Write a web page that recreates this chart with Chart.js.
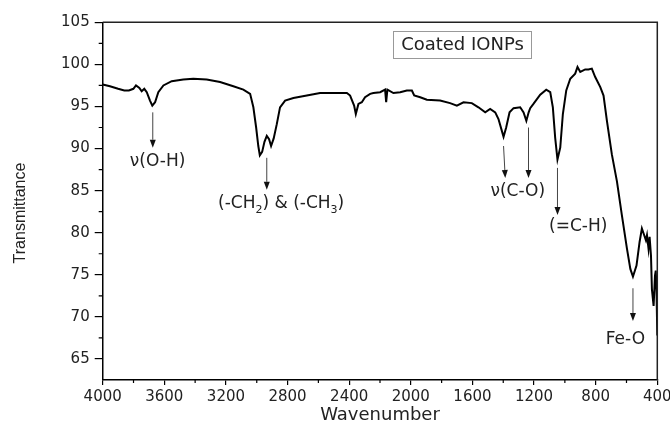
<!DOCTYPE html>
<html>
<head>
<meta charset="utf-8">
<script src="https://cdn.jsdelivr.net/npm/chart.js@4.4.1/dist/chart.umd.min.js"></script>
<style>
  html, body { margin: 0; padding: 0; background: #fff; }
</style>
</head>
<body>
<canvas id="irChart" width="670" height="430"></canvas>
<script>
// FTIR spectrum
const wavenumbers = [
    4000, 3953, 3900, 3860, 3830, 3801, 3784, 3762, 3747, 3730, 3714, 3693, 3678, 3660, 3639, 3606,
    3552, 3477, 3412, 3325, 3238, 3152, 3087, 3043, 3022, 3004, 2990, 2980, 2965, 2950, 2935, 2920,
    2907, 2890, 2870, 2849, 2816, 2762, 2675, 2589, 2500, 2415, 2394, 2368, 2357, 2340, 2318, 2297,
    2264, 2243, 2199, 2167, 2160, 2152, 2113, 2069, 2026, 1993, 1978, 1939, 1896, 1810, 1745, 1701,
    1658, 1604, 1561, 1517, 1485, 1452, 1431, 1409, 1398, 1381, 1359, 1333, 1290, 1268, 1250, 1235,
    1225, 1204, 1160, 1121, 1095, 1078, 1063, 1048, 1030, 1013, 991, 965, 933, 918, 900, 868,
    847, 825, 803, 770, 749, 727, 695, 662, 630, 597, 575, 558, 535, 515, 500, 485,
    474, 467, 457, 450, 441, 435, 424, 415, 410, 405, 400
];
const transmittance = [
    97.6, 97.4, 97.1, 96.9, 96.9, 97.1, 97.5, 97.2, 96.8, 97.1, 96.7, 95.7, 95.1, 95.5, 96.7, 97.5,
    98.0, 98.2, 98.3, 98.2, 97.9, 97.4, 97.0, 96.5, 94.9, 92.5, 90.3, 89.2, 89.6, 90.8, 91.5, 91.1,
    90.3, 91.2, 92.9, 94.9, 95.7, 96.0, 96.3, 96.6, 96.6, 96.6, 96.3, 95.1, 94.1, 95.3, 95.5, 96.1,
    96.5, 96.6, 96.7, 97.0, 95.5, 97.0, 96.6, 96.7, 96.9, 96.9, 96.3, 96.1, 95.8, 95.7, 95.4, 95.1,
    95.5, 95.4, 94.9, 94.3, 94.7, 94.3, 93.5, 92.1, 91.4, 92.5, 94.3, 94.8, 94.9, 94.3, 93.3, 94.3,
    94.8, 95.3, 96.4, 97.0, 96.7, 94.9, 91.3, 88.7, 90.1, 94.1, 96.9, 98.3, 98.9, 99.7, 99.1, 99.4,
    99.4, 99.5, 98.5, 97.3, 96.3, 93.3, 89.3, 86.1, 82.1, 78.1, 75.7, 74.8, 76.1, 78.9, 80.5, 79.7,
    79.1, 79.7, 78.1, 79.5, 77.3, 73.3, 71.3, 74.9, 75.5, 73.0, 67.8
];
const yTickValues = [65, 70, 75, 80, 85, 90, 95, 100, 105];
const seriesName = 'Coated IONPs';

// peak labels: arrow from/to and text position, in data units
const peakNotes = [
    { parts: [['ν(O-H)']], tx: 3644, ty: 88.4, arrows: [[3675, 94.3, 3675, 90.1]] },
    { parts: [['(-CH'], ['2', 1], [') & (-CH'], ['3', 1], [')']], tx: 2842, ty: 83.5, arrows: [[2935, 88.9, 2935, 85.1]] },
    { parts: [['ν(C-O)']], tx: 1306, ty: 84.9, arrows: [[1398, 90.3, 1387, 86.5], [1236, 92.5, 1236, 86.5]] },
    { parts: [['(=C-H)']], tx: 913, ty: 80.7, arrows: [[1048, 87.7, 1048, 82.1]] },
    { parts: [['Fe-O']], tx: 607, ty: 67.3, arrows: [[558, 73.4, 558, 69.5]] }
];

const points = wavenumbers.map((w, i) => ({ x: w, y: transmittance[i] }));

function drawArrow(ctx, x1, y1, x2, y2) {
    const ang = Math.atan2(y2 - y1, x2 - x1);
    const len = 8, half = 3;
    ctx.strokeStyle = '#444';
    ctx.lineWidth = 1;
    ctx.beginPath();
    ctx.moveTo(x1, y1);
    ctx.lineTo(x2 - Math.cos(ang) * len, y2 - Math.sin(ang) * len);
    ctx.stroke();
    ctx.fillStyle = '#111';
    ctx.beginPath();
    ctx.moveTo(x2, y2);
    ctx.lineTo(x2 - Math.cos(ang) * len - Math.sin(ang) * half, y2 - Math.sin(ang) * len + Math.cos(ang) * half);
    ctx.lineTo(x2 - Math.cos(ang) * len + Math.sin(ang) * half, y2 - Math.sin(ang) * len - Math.cos(ang) * half);
    ctx.closePath();
    ctx.fill();
}

function drawParts(ctx, parts, cx, cy) {
    const big = '17px "DejaVu Sans"', small = '11px "DejaVu Sans"';
    let total = 0;
    parts.forEach(p => { ctx.font = p[1] ? small : big; total += ctx.measureText(p[0]).width; });
    let x = cx - total / 2;
    ctx.textAlign = 'left';
    ctx.textBaseline = 'middle';
    ctx.fillStyle = '#222';
    parts.forEach(p => {
        ctx.font = p[1] ? small : big;
        ctx.fillText(p[0], x, p[1] ? cy + 7 : cy);
        x += ctx.measureText(p[0]).width;
    });
}

const extrasPlugin = {
    id: 'extras',
    afterDraw(chart) {
        const { ctx, chartArea: a, scales: { x, y } } = chart;
        ctx.save();
        // top and right frame
        ctx.strokeStyle = '#222';
        ctx.lineWidth = 1.5;
        ctx.beginPath();
        ctx.moveTo(a.left, a.top);
        ctx.lineTo(a.right, a.top);
        ctx.lineTo(a.right, a.bottom);
        ctx.stroke();

        // minor ticks
        ctx.strokeStyle = '#000';
        ctx.lineWidth = 1.2;
        ctx.beginPath();
        for (let v = 600; v < 4000; v += 400) {
            const px = x.getPixelForValue(v);
            ctx.moveTo(px, a.bottom);
            ctx.lineTo(px, a.bottom + 3);
        }
        for (let v = 67.5; v < 105; v += 5) {
            const py = y.getPixelForValue(v);
            ctx.moveTo(a.left, py);
            ctx.lineTo(a.left - 4, py);
        }
        ctx.stroke();

        // y title
        ctx.save();
        ctx.translate(21, 213);
        ctx.rotate(-Math.PI / 2);
        ctx.font = '16px "Liberation Sans"';
        ctx.fillStyle = '#222';
        ctx.textAlign = 'center';
        ctx.textBaseline = 'middle';
        ctx.fillText('Transmittance', 0, 0);
        ctx.restore();

        // peak notes
        peakNotes.forEach(n => {
            n.arrows.forEach(ar => {
                drawArrow(ctx, x.getPixelForValue(ar[0]), y.getPixelForValue(ar[1]),
                    x.getPixelForValue(ar[2]), y.getPixelForValue(ar[3]));
            });
            drawParts(ctx, n.parts, x.getPixelForValue(n.tx), y.getPixelForValue(n.ty));
        });

        // legend box
        ctx.strokeStyle = '#999';
        ctx.lineWidth = 1;
        ctx.strokeRect(393.5, 31.5, 138, 27);
        ctx.font = '18px "DejaVu Sans"';
        ctx.fillStyle = '#222';
        ctx.textAlign = 'center';
        ctx.textBaseline = 'middle';
        ctx.fillText(seriesName, 462.5, 45.5);
        ctx.restore();
    }
};

new Chart(document.getElementById('irChart'), {
    type: 'line',
    data: {
        datasets: [{
            label: seriesName,
            data: points,
            borderColor: '#000',
            borderWidth: 2,
            pointRadius: 0,
            tension: 0,
            fill: false
        }]
    },
    options: {
        responsive: false,
        animation: false,
        devicePixelRatio: 1,
        layout: { padding: { left: 0, right: 12.7, top: 22.3, bottom: 0 } },
        plugins: { legend: { display: false }, tooltip: { enabled: false } },
        scales: {
            x: {
                type: 'linear',
                reverse: true,
                min: 400,
                max: 4000,
                afterFit: (s) => { s.height = 50; s.paddingLeft = 0; s.paddingRight = 0; },
                ticks: {
                    stepSize: 400,
                    padding: 3,
                    maxRotation: 0,
                    color: '#222',
                    font: { family: 'DejaVu Sans', size: 15 },
                    callback: (v) => String(v)
                },
                grid: { drawOnChartArea: false, tickLength: 5, color: '#000', lineWidth: 1.2 },
                border: { display: true, color: '#000', width: 1.5 },
                title: {
                    display: true,
                    text: 'Wavenumber',
                    color: '#222',
                    font: { family: 'DejaVu Sans', size: 18 },
                    padding: { top: 0, bottom: 4 }
                }
            },
            y: {
                min: 62.5,
                max: 105,
                afterFit: (s) => { s.width = 102.7; s.paddingTop = 0; s.paddingBottom = 0; },
                ticks: {
                    stepSize: 5,
                    includeBounds: false,
                    padding: 5,
                    color: '#222',
                    font: { family: 'DejaVu Sans', size: 15 },
                    callback: (v) => yTickValues.includes(v) ? String(v) : ''
                },
                grid: { drawOnChartArea: false, tickLength: 8, color: '#000', lineWidth: 1.2 },
                border: { display: true, color: '#000', width: 1.5 }
            }
        }
    },
    plugins: [extrasPlugin]
});
</script>
</body>
</html>
